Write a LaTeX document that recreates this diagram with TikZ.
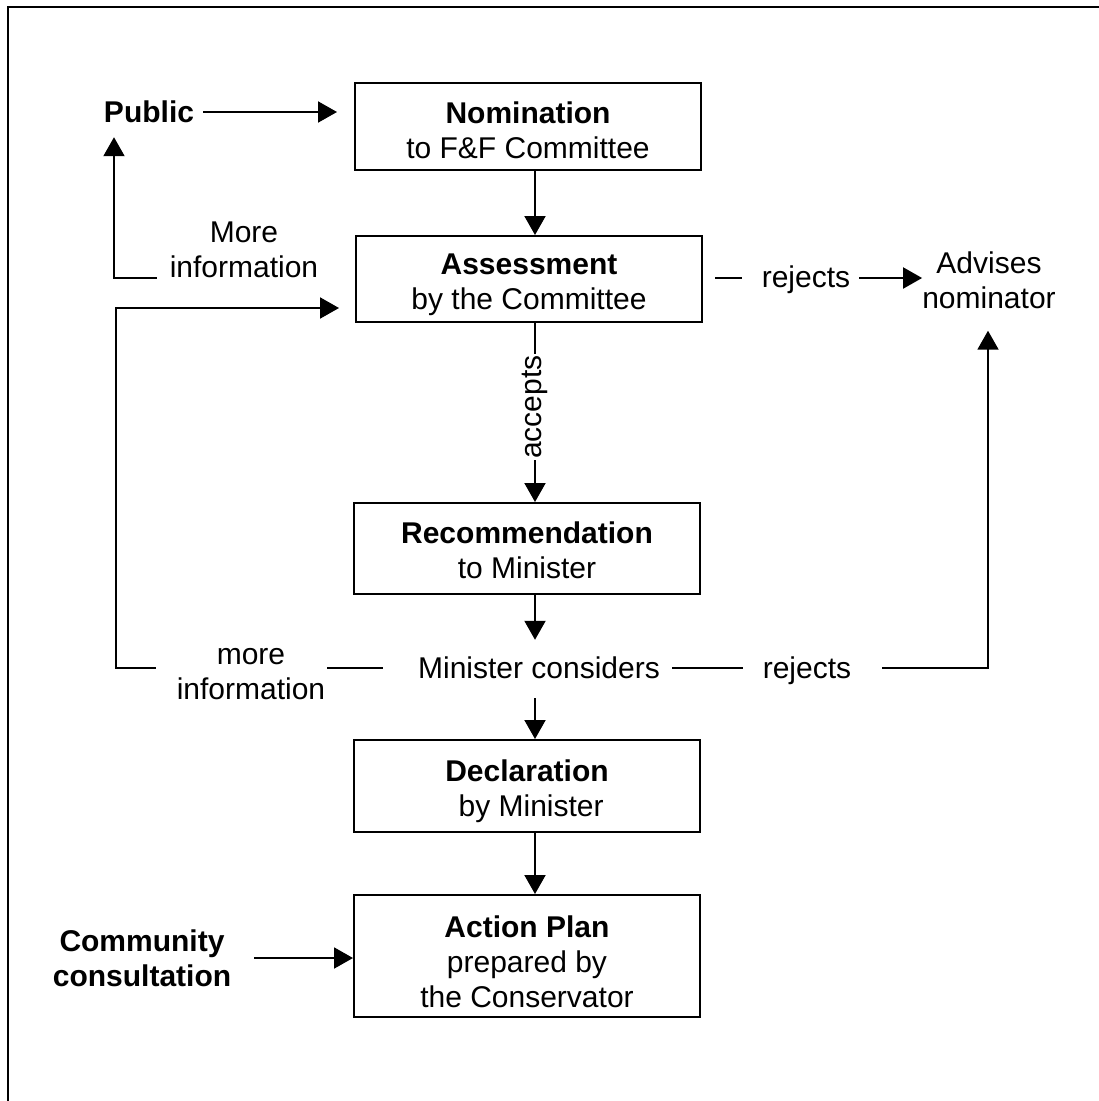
\documentclass[tikz,border=0pt]{standalone}
\usepackage{fontspec}
\setmainfont{Liberation Sans}
\usetikzlibrary{arrows.meta}
\begin{document}
\begin{tikzpicture}[x=1pt,y=-1pt,
  every node/.style={font=\fontsize{30}{35}\selectfont, inner sep=0pt, align=center},
  box/.style={draw, line width=2pt, minimum width=346pt},
  ln/.style={line width=2pt},
  arr/.style={line width=2pt, -{Triangle[length=19pt,width=21pt]}}]
\useasboundingbox (0,0) rectangle (1099,1101);
\draw[line width=2.5pt] (8,1101) -- (8,7) -- (1099,7);
% boxes
\node[box, minimum height=87pt] (nom) at (528,126.5) {};
\node[box, minimum height=86pt] (ass) at (529,279) {};
\node[box, minimum height=91pt] (rec) at (527,548.5) {};
\node[box, minimum height=92pt] (dec) at (527,786) {};
\node[box, minimum height=122pt] (act) at (527,956) {};
% box texts
\node (nomt) at (528,130) {\textbf{Nomination}\\to F\&F Committee};
\node (asst) at (529,284.5) {\textbf{Assessment}\\by the Committee};
\node (rect) at (527,550) {\textbf{Recommendation}\\to Minister};
\node (dect) at (527,791.5) {\textbf{Declaration}\\\ by Minister};
\node (actt) at (527,962) {\textbf{Action Plan}\\prepared by\\the Conservator};
% free texts
\node (pub) at (149,112) {\textbf{Public}};
\node (mi) at (244,250) {More\\information};
\node (mi2) at (251,674) {more\\information};
\node (min) at (539,668) {Minister considers};
\node (rej1) at (806,280) {rejects};
\node (rej2) at (807,671) {rejects};
\node (adv) at (989,280) {Advises\\nominator};
\node (com) at (142,958) {\textbf{Community}\\\textbf{consultation}};
\coordinate (ax) at (535,0);
\coordinate (c1) at (114,278);
\coordinate (c2) at (116,668);
\coordinate (c3) at (116,308);
\coordinate (c4) at (988,668);
% connectors
\draw[arr, shorten <=9pt, shorten >=17pt] (pub.east) -- (pub.east -| nom.west);
\draw[arr] (nom.south -| ax) -- (ass.north -| ax);
\draw[arr, shorten <=13pt, shorten >=14pt] (mi.west |- c1) -- (c1) -- (c1 |- pub.south);
\draw[arr, shorten <=21pt, shorten >=16pt] (mi2.west |- c2) -- (c2) -- (c3) -- (c3 -| ass.west);
\draw[arr] (ass.south -| ax) -- node[pos=0.47, rotate=90, fill=white, inner sep=1.5pt] (acc) {accepts} (rec.north -| ax);
\draw[ln, shorten <=12pt, shorten >=20pt] (ass.east |- c1) -- (rej1.west |- c1);
\draw[arr, shorten <=9pt] (rej1.east |- c1) -- (adv.west |- c1);
\draw[arr, shorten >=17pt] (rec.south -| ax) -- (min.north -| ax);
\draw[ln, shorten <=2pt, shorten >=35pt] (mi2.east |- min) -- (min.west);
\draw[ln, shorten <=12pt, shorten >=20pt] (min.east) -- (rej2.west |- c4);
\draw[arr, shorten <=31pt, shorten >=22pt] (rej2.east |- c4) -- (c4) -- (c4 |- adv.south);
\draw[arr, shorten <=19pt] (min.south -| ax) -- (dec.north -| ax);
\draw[arr] (dec.south -| ax) -- (act.north -| ax);
\draw[arr, shorten <=23pt] (com.east) -- (com.east -| act.west);
\end{tikzpicture}
\end{document}
